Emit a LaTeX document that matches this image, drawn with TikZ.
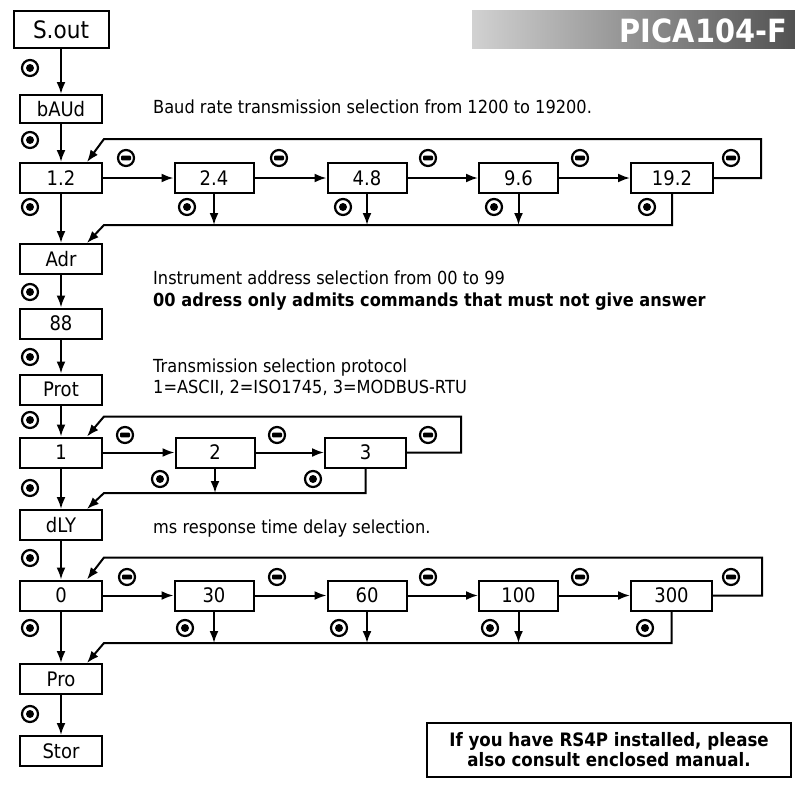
\documentclass[tikz,border=0pt]{standalone}
\usepackage{fontspec}
\setmainfont{DejaVu Sans}[FakeStretch=0.9]
\usepackage{tikz}
\usetikzlibrary{calc,arrows.meta,positioning}

\newcommand{\boxfont}{\fontsize{20}{20}\selectfont}
\newcommand{\descfont}{\fontsize{18}{21}\selectfont}
\newcommand{\notefont}{\fontsize{18.5}{20}\selectfont}
\newcommand{\titlefont}{\fontsize{32}{32}\selectfont}

\tikzset{
  keybox/.style={draw,line width=2pt,minimum width=82pt,minimum height=30pt,inner sep=0pt,font=\boxfont},
  optbox/.style={keybox,minimum width=79pt},
  flow/.style={line width=2pt,-{Latex[length=12pt,width=9pt]}},
  enterkey/.style={circle,draw,line width=2.2pt,minimum size=16pt,inner sep=0pt,
    path picture={\fill (path picture bounding box.center) circle (4pt);}},
  minuskey/.style={circle,draw,line width=2.2pt,minimum size=16pt,inner sep=0pt,
    path picture={\fill[rounded corners=1pt] ($(path picture bounding box.center)+(-5,-2.4)$) rectangle ($(path picture bounding box.center)+(5,2.4)$);}},
  info/.style={anchor=base west,inner sep=0pt,font=\descfont}
}

\begin{document}
\begin{tikzpicture}[x=1pt,y=-1pt]
  \useasboundingbox (0,0) rectangle (795,787);
  % title bar
  \shade[left color=black!18,right color=black!68] (472,10) rectangle (795,48);
  \node[anchor=base east,inner sep=0pt,text=white,font=\bfseries\titlefont] (title) at (787,42) {PICA104-F};

  % main column
  \node[keybox,minimum width=95pt,minimum height=37pt,font=\fontsize{24}{24}\selectfont] (sout) at (61,29.5) {S.out};
  \node[keybox,minimum height=28pt] (baud) at (61,109) {bAUd};
  \node[keybox] (adr) at (61,259) {Adr};
  \node[keybox] (addr) at (61,323.5) {88};
  \node[keybox] (prot) at (61,389.5) {Prot};
  \node[keybox] (dly) at (61,525) {dLY};
  \node[keybox] (pro) at (61,679) {Pro};
  \node[keybox] (stor) at (61,751) {Stor};

  % baud rate row
  \node[keybox] (b12) at (61,178) {1.2};
  \node[optbox] (b24) at (214,178) {2.4};
  \node[optbox] (b48) at (367,178) {4.8};
  \node[optbox] (b96) at (518.5,178) {9.6};
  \node[optbox,minimum width=82pt] (b192) at (672,178) {19.2};

  % protocol row
  \node[keybox] (p1) at (61,452.5) {1};
  \node[optbox] (p2) at (215,452.5) {2};
  \node[optbox,minimum width=81pt] (p3) at (365.5,452.5) {3};

  % delay row
  \node[keybox] (d0) at (61,595.5) {0};
  \node[optbox] (d30) at (214,595.5) {30};
  \node[optbox] (d60) at (367,595.5) {60};
  \node[optbox] (d100) at (518.5,595.5) {100};
  \node[optbox,minimum width=81pt] (d300) at (671.5,595.5) {300};

  % vertical flow
  \draw[flow] (sout) -- (baud);
  \draw[flow] (baud) -- (b12);
  \draw[flow] (b12) -- (adr);
  \draw[flow] (adr) -- (addr);
  \draw[flow] (addr) -- (prot);
  \draw[flow] (prot) -- (p1);
  \draw[flow] (p1) -- (dly);
  \draw[flow] (dly) -- (d0);
  \draw[flow] (d0) -- (pro);
  \draw[flow] (pro) -- (stor);

  % horizontal flow
  \draw[flow] (b12) -- (b24);
  \draw[flow] (b24) -- (b48);
  \draw[flow] (b48) -- (b96);
  \draw[flow] (b96) -- (b192);
  \draw[flow] (p1) -- (p2);
  \draw[flow] (p2) -- (p3);
  \draw[flow] (d0) -- (d30);
  \draw[flow] (d30) -- (d60);
  \draw[flow] (d60) -- (d100);
  \draw[flow] (d100) -- (d300);

  % loops back to first option
  \draw[flow] (b192.east) -- ++(47,0) |- ($(b12.north east)+(1,-23)$) -- ($(b12.north east)+(-16,0)$);
  \draw[flow] (p3.east) -- ++(54,0) |- ($(p1.north east)+(1,-20)$) -- ($(p1.north east)+(-16,0)$);
  \draw[flow] (d300.east) -- ++(49,0) |- ($(d0.north east)+(1,-22)$) -- ($(d0.north east)+(-16,0)$);

  % returns to main column
  \coordinate (bret) at ($(adr.north east)+(1,-18)$);
  \draw[flow] (b192.south) |- (bret) -- ($(adr.north east)+(-16,0)$);
  \foreach \n in {b24,b48,b96} \draw[flow] (\n.south) -- (\n.south |- bret);
  \coordinate (pret) at ($(dly.north east)+(1,-16)$);
  \draw[flow] (p3.south) |- (pret) -- ($(dly.north east)+(-16,0)$);
  \draw[flow] (p2.south) -- (p2.south |- pret);
  \coordinate (dret) at ($(pro.north east)+(1,-20)$);
  \draw[flow] (d300.south) |- (dret) -- ($(pro.north east)+(-16,0)$);
  \foreach \n in {d30,d60,d100} \draw[flow] (\n.south) -- (\n.south |- dret);

  % enter keys
  \foreach \y [count=\i] in {68,140,207,292,357,420,488,558,628,714}
    \node[enterkey] (ok\i) at (30,\y) {};
  \foreach \x [count=\i] in {187,343,494,647} \node[enterkey] (okb\i) at (\x,207) {};
  \foreach \x [count=\i] in {160,313} \node[enterkey] (okp\i) at (\x,479) {};
  \foreach \x [count=\i] in {185,339,490,645} \node[enterkey] (okd\i) at (\x,628) {};

  % minus keys
  \foreach \x [count=\i] in {126,279,428,580,731} \node[minuskey] (mb\i) at (\x,158) {};
  \foreach \x [count=\i] in {125,277,428} \node[minuskey] (mp\i) at (\x,435) {};
  \foreach \x [count=\i] in {127,277,428,580,731} \node[minuskey] (md\i) at (\x,577) {};

  % descriptions
  \node[info] (tbaud) at (153,113) {Baud rate transmission selection from 1200 to 19200.};
  \node[info] (tadr) at (153,284) {Instrument address selection from 00 to 99};
  \node[info,font=\bfseries\descfont] (tadrb) at (153,306) {00 adress only admits commands that must not give answer};
  \node[info] (tprot) at (153,372) {Transmission selection protocol};
  \node[info] (tprotb) at (153,393) {1=ASCII, 2=ISO1745, 3=MODBUS-RTU};
  \node[info] (tdly) at (153,533) {ms response time delay selection.};

  \node[draw,line width=1.6pt,minimum width=364pt,minimum height=54pt,align=center,font=\bfseries\notefont] (note) at (609,750) {If you have RS4P installed, please\\also consult enclosed manual.};
\end{tikzpicture}
\end{document}
